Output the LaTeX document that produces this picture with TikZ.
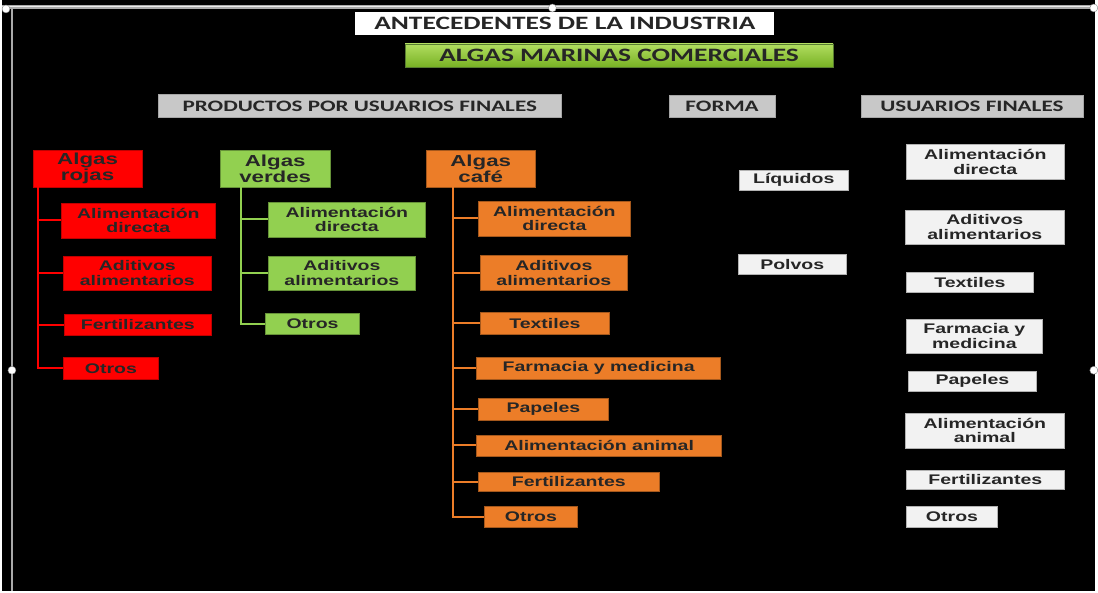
\documentclass[tikz,border=0pt]{standalone}
\usepackage{fontspec}
\setmainfont{Liberation Sans}
\newfontfamily\boxfont[FakeStretch=1.4]{Liberation Sans}
\newfontfamily\headfont[FakeStretch=1.45]{Carlito}

\definecolor{rojo}{RGB}{255,0,0}
\definecolor{verde}{RGB}{146,208,80}
\definecolor{cafe}{RGB}{236,125,40}
\definecolor{blanco}{RGB}{242,242,242}
\definecolor{gris}{RGB}{200,200,200}
\definecolor{marco}{RGB}{170,170,170}

\begin{document}
\begin{tikzpicture}[x=1pt, y=-1pt,
    caja/.style={rectangle, inner sep=0pt, align=center, text=black!85,
      font=\boxfont\bfseries\fontsize{14}{15}\selectfont},
    padre/.style={caja, font=\boxfont\bfseries\fontsize{16}{16}\selectfont},
    roja/.style={fill=rojo, draw=red!75!black, line width=0.5pt},
    verdecaja/.style={fill=verde, draw=verde!70!black, line width=0.5pt},
    cafecaja/.style={fill=cafe, draw=cafe!70!black, line width=0.5pt},
    blancacaja/.style={caja, fill=blanco, draw=gray!60, line width=0.5pt},
    titulo/.style={rectangle, inner sep=0pt, text=black!85,
      font=\headfont\bfseries\fontsize{19}{19}\selectfont},
    seccion/.style={titulo, fill=gris, draw=gray!70,
      font=\headfont\bfseries\fontsize{16}{16}\selectfont},
    rama/.style={line width=2pt},
    asa/.style={circle, fill=white, draw=gray, inner sep=0pt, minimum size=8pt}
  ]
  % fondo y marco
  \fill[black] (0,0) rectangle (1098,594);
  \draw[marco, line width=4pt] (0,7) -- (1098,7);
  \draw[white!85!gray, line width=1pt] (0,7) -- (1098,7);
  \draw[marco, line width=2pt] (10,7) -- (10,594);

  % titulos
  \node[titulo, fill=white, minimum width=421, minimum height=23] (tit) at (565.5,23.5) {ANTECEDENTES DE LA INDUSTRIA};
  \node[titulo, top color={rgb,255:red,178;green,222;blue,96}, bottom color={rgb,255:red,118;green,176;blue,34},
    draw=verde!60!black, minimum width=430, minimum height=24] (alg) at (620,56) {ALGAS MARINAS COMERCIALES};
  \node[seccion, minimum width=405, minimum height=23] (pro) at (359.5,106.5) {PRODUCTOS POR USUARIOS FINALES};
  \node[seccion, minimum width=107, minimum height=22] (for) at (723.5,107) {FORMA};
  \node[seccion, minimum width=223, minimum height=22] (usu) at (974.5,107) {USUARIOS FINALES};

  % algas rojas
  \node[padre, roja, minimum width=110, minimum height=37] (rojas) at (86,169.5) {Algas\\rojas};
  \node[caja, roja, minimum width=154, minimum height=35] (rA) at (137,221.5) {Alimentación\\directa};
  \node[caja, roja, minimum width=148, minimum height=35] (rB) at (136,274.5) {Aditivos\\alimentarios};
  \node[caja, roja, minimum width=147, minimum height=21] (rC) at (136.5,326.5) {Fertilizantes};
  \node[caja, roja, minimum width=95, minimum height=22] (rD) at (109.5,370) {Otros};
  \coordinate (rs) at (36,188);
  \foreach \n in {rA,rB,rC,rD}
    \draw[rama, rojo] (rs) |- (\n.west);

  % algas verdes
  \node[padre, verdecaja, minimum width=111, minimum height=37] (verdes) at (274.5,169.5) {Algas\\verdes};
  \node[caja, verdecaja, minimum width=157, minimum height=35] (vA) at (346.5,220.5) {Alimentación\\directa};
  \node[caja, verdecaja, minimum width=147, minimum height=35] (vB) at (341.5,274.5) {Aditivos\\alimentarios};
  \node[caja, verdecaja, minimum width=94, minimum height=21] (vC) at (312,325.5) {Otros};
  \coordinate (vs) at (240,188);
  \foreach \n in {vA,vB,vC}
    \draw[rama, verde] (vs) |- (\n.west);

  % algas cafe
  \node[padre, cafecaja, minimum width=110, minimum height=37] (cafe) at (481,169.5) {Algas\\café};
  \node[caja, cafecaja, minimum width=152, minimum height=35] (cA) at (555,219.5) {Alimentación\\directa};
  \node[caja, cafecaja, minimum width=147, minimum height=36] (cB) at (554.5,274) {Aditivos\\alimentarios};
  \node[caja, cafecaja, minimum width=129, minimum height=22] (cC) at (545.5,325) {Textiles};
  \node[caja, cafecaja, minimum width=245, minimum height=22] (cD) at (599.5,370) {Farmacia y medicina};
  \node[caja, cafecaja, minimum width=130, minimum height=22] (cE) at (544,411) {Papeles};
  \node[caja, cafecaja, minimum width=246, minimum height=21] (cF) at (600,447.5) {Alimentación animal};
  \node[caja, cafecaja, minimum width=181, minimum height=20] (cG) at (569.5,484) {Fertilizantes};
  \node[caja, cafecaja, minimum width=93, minimum height=21] (cH) at (531.5,519.5) {Otros};
  \coordinate (cs) at (453,188);
  \foreach \n in {cA,cB,cC,cD,cE,cF,cG,cH}
    \draw[rama, cafe] (cs) |- (\n.west);

  % forma
  \node[blancacaja, minimum width=109, minimum height=20] (fL) at (795.5,181) {Líquidos};
  \node[blancacaja, minimum width=108, minimum height=21] (fP) at (794,265.5) {Polvos};

  % usuarios finales
  \node[blancacaja, minimum width=158, minimum height=35] (uA) at (988,162.5) {Alimentación\\directa};
  \node[blancacaja, minimum width=159, minimum height=34] (uB) at (987.5,228) {Aditivos\\alimentarios};
  \node[blancacaja, minimum width=127, minimum height=20] (uC) at (972.5,284) {Textiles};
  \node[blancacaja, minimum width=136, minimum height=34] (uD) at (977,338) {Farmacia y\\medicina};
  \node[blancacaja, minimum width=128, minimum height=20] (uE) at (975,383) {Papeles};
  \node[blancacaja, minimum width=159, minimum height=35] (uF) at (987.5,432.5) {Alimentación\\animal};
  \node[blancacaja, minimum width=158, minimum height=20] (uG) at (988,482) {Fertilizantes};
  \node[blancacaja, minimum width=91, minimum height=21] (uH) at (954.5,519.5) {Otros};

  % asas del marco
  \node[asa] (h1) at (553,8) {};
  \node[asa] (h2) at (10,372) {};
  \node[asa] (h3) at (1097,372) {};
  \node[asa] (h4) at (1097,8) {};
  \node[asa] (h5) at (4,9) {};
\end{tikzpicture}
\end{document}
